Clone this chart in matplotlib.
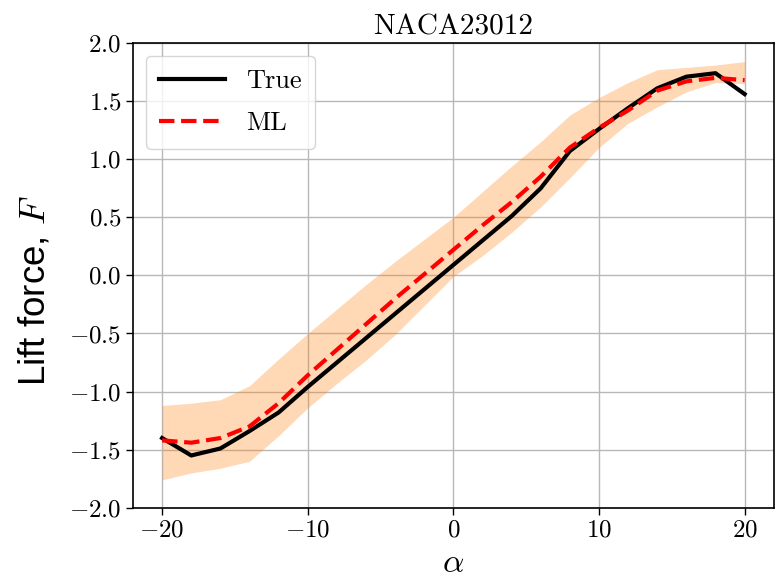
import matplotlib
matplotlib.use("Agg")
import matplotlib.pyplot as plt
import numpy as np

alpha = [-20, -18, -16, -14, -12, -10, -8, -6, -4, -2, 0, 2, 4, 6, 8, 10, 12, 14, 16, 18, 20]
true_F = [-1.40, -1.55, -1.49, -1.34, -1.18, -0.96, -0.75, -0.54, -0.33, -0.12, 0.09,
          0.30, 0.51, 0.75, 1.07, 1.26, 1.44, 1.61, 1.71, 1.74, 1.56]
ml_F = [-1.42, -1.44, -1.40, -1.30, -1.10, -0.86, -0.64, -0.42, -0.20, 0.01, 0.22,
        0.43, 0.63, 0.85, 1.10, 1.27, 1.42, 1.59, 1.67, 1.70, 1.68]
upper_F = [-1.12, -1.10, -1.07, -0.95, -0.72, -0.50, -0.29, -0.08, 0.12, 0.31, 0.50,
           0.72, 0.94, 1.15, 1.38, 1.53, 1.66, 1.77, 1.79, 1.81, 1.84]
lower_F = [-1.76, -1.70, -1.66, -1.60, -1.38, -1.14, -0.93, -0.73, -0.51, -0.26, -0.01,
           0.17, 0.37, 0.59, 0.84, 1.10, 1.31, 1.45, 1.58, 1.66, 1.65]

plt.rcParams['font.family'] = 'serif'
plt.rcParams['font.serif'] = ['cmr10']
plt.rcParams['mathtext.fontset'] = 'cm'
plt.rcParams['axes.formatter.use_mathtext'] = True

fig = plt.figure(figsize=(7.8, 5.77), dpi=100)
ax = fig.add_axes([0.1705, 0.120, 0.8215, 0.8055])

ax.fill_between(alpha, lower_F, upper_F, color='#ff7f0e', alpha=0.3, linewidth=0, zorder=2)
ax.plot(alpha, true_F, color='black', lw=3, label='True', zorder=3)
ax.plot(alpha, ml_F, color='red', lw=3, ls='--', label='ML', zorder=4)

ax.set_xlim(-22, 22)
ax.set_ylim(-2.0, 2.0)
ax.set_xticks([-20, -10, 0, 10, 20])
ax.set_yticks(np.arange(-2.0, 2.01, 0.5))
ax.yaxis.set_major_formatter(matplotlib.ticker.FormatStrFormatter('$%.1f$'))
ax.xaxis.set_major_formatter(matplotlib.ticker.FormatStrFormatter('$%d$'))
ax.tick_params(labelsize=18, width=1, length=5)
ax.grid(True, color='#b8b8b8', lw=1, zorder=0)
ax.set_axisbelow(True)
for s in ax.spines.values():
    s.set_linewidth(1.2)

ax.set_title('NACA23012', fontsize=21, pad=6)
ax.set_xlabel(r'$\alpha$', fontsize=24, labelpad=5)
ax.set_ylabel(r'Lift force, $F$', fontsize=26.5, family='Liberation Sans')
ax.yaxis.set_label_coords(-0.125, 0.467)

leg = ax.legend(loc='upper left', fontsize=19, handlelength=2.5, framealpha=0.8,
                borderpad=0.5, labelspacing=0.7, handletextpad=0.8)
leg.get_frame().set_linewidth(1.0)

fig.savefig('out.png', dpi=100)
